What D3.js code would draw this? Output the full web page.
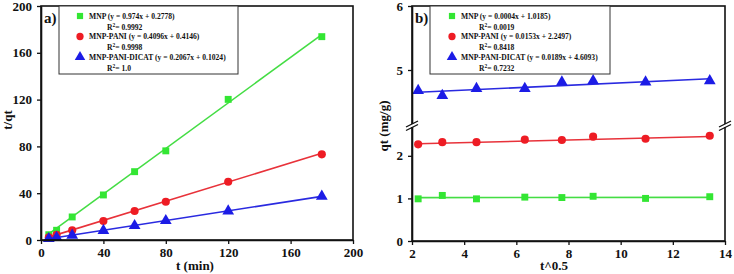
<!DOCTYPE html>
<html><head><meta charset="utf-8">
<script src="https://cdn.jsdelivr.net/npm/d3@7"></script>
<style>
body{margin:0;background:#fff;}
svg text{font-family:"Liberation Serif","Times New Roman",Times,serif;font-weight:bold;fill:#111;}
</style></head>
<body><svg id="c" width="734" height="274"></svg>
<script>
// ---------- data ----------
const tMin = [5, 10, 20, 40, 60, 80, 120, 180];
const sqrtT = [2.236, 3.162, 4.472, 6.325, 7.746, 8.944, 10.954, 13.416];
const seriesNames = ["MNP", "MNP-PANI", "MNP-PANI-DICAT"];
// panel a: t/qt
const aMNP = [4.5, 8.3, 19.7, 38.5, 58.4, 76.2, 120.2, 173.8];
const aPANI = [2.2, 4.4, 8.3, 16.2, 24.8, 32.7, 49.8, 73.2];
const aDICAT = [1.1, 2.2, 4.0, 8.0, 12.2, 16.5, 24.8, 37.3];
const aSlope = [0.974, 0.4096, 0.2067];
const aIntercept = [0.2778, 0.4146, 0.1024];
const aEq = ["MNP (y = 0.974x + 0.2778)", "MNP-PANI (y = 0.4096x + 0.4146)", "MNP-PANI-DICAT (y = 0.2067x + 0.1024)"];
const aR2 = ["0.9992", "0.9998", "1.0"];
// panel b: qt
const bMNP = [0.99, 1.07, 0.99, 1.03, 1.02, 1.05, 1.00, 1.04];
const bPANI = [2.27, 2.32, 2.32, 2.38, 2.37, 2.45, 2.40, 2.47];
const bDICAT = [4.68, 4.60, 4.71, 4.71, 4.81, 4.83, 4.81, 4.83];
const bSlope = [0.0004, 0.0153, 0.0189];
const bIntercept = [1.0185, 2.2497, 4.6093];
const bEq = ["MNP (y = 0.0004x + 1.0185)", "MNP-PANI (y = 0.0153x + 2.2497)", "MNP-PANI-DICAT (y = 0.0189x + 4.6093)"];
const bR2 = ["0.0019", "0.8418", "0.7232"];
const aXTicks = [0, 40, 80, 120, 160, 200];
const aYTicks = [0, 40, 80, 120, 160, 200];
const bXTicks = [2, 4, 6, 8, 10, 12, 14];
const bYTicksLow = [0, 1, 2];
const bYTicksHigh = [5, 6];

const colors = ["#33e633", "#ee1c24", "#1c1ce6"];
const lineColors = ["#44dd44", "#e8323a", "#2a2ae0"];
const shapes = [d3.symbolSquare, d3.symbolCircle, d3.symbolTriangle];
const symSizes = [48, 52, 60];

const svg = d3.select("#c");

function axisStyle(g){
  g.selectAll("path.domain").attr("stroke","#111").attr("stroke-width",1.6);
  g.selectAll(".tick line").attr("stroke","#111").attr("stroke-width",1.3);
  g.selectAll(".tick text").style("font-size","13px").attr("fill","#111");
}

function legend(g, x0, y0, w, h, eqs, r2s, mx, tx, rx){
  g.append("rect").attr("x",x0).attr("y",y0).attr("width",w).attr("height",h)
    .attr("fill","#fff").attr("stroke","#333").attr("stroke-width",1);
  eqs.forEach((e,i)=>{
    const yy = y0 + 10 + i*20.5;
    g.append("path").attr("d", d3.symbol().type(shapes[i]).size(symSizes[i]*0.8)())
      .attr("transform",`translate(${mx},${yy})`).attr("fill",colors[i]);
    g.append("text").attr("x",tx).attr("y",yy).attr("dy","0.35em").style("font-size","7.6px").text(e);
    const t = g.append("text").attr("x",rx).attr("y",yy+11).attr("dy","0.35em").style("font-size","7.6px");
    t.append("tspan").text("R");
    t.append("tspan").attr("dy","-3").style("font-size","5.5px").text("2");
    t.append("tspan").attr("dy","3").text("= " + r2s[i]);
  });
}

// ---------- panel a ----------
{
  const L=41, R=353, T=6, B=240;
  const x = d3.scaleLinear().domain([0,200]).range([L,R]);
  const y = d3.scaleLinear().domain([0,200]).range([B,T]);
  const g = svg.append("g");
  const data = [aMNP, aPANI, aDICAT];
  data.forEach((vals,i)=>{
    const line = d3.line().x(d=>x(d)).y(d=>y(aSlope[i]*d + aIntercept[i]));
    g.append("path").datum([tMin[0], tMin[tMin.length-1]]).attr("d",line)
      .attr("fill","none").attr("stroke",lineColors[i]).attr("stroke-width",1.6);
    g.selectAll(null).data(vals).enter().append("path")
      .attr("d", d3.symbol().type(shapes[i]).size(symSizes[i])())
      .attr("transform",(d,j)=>`translate(${x(tMin[j])},${y(d)})`)
      .attr("fill",colors[i]);
  });
  g.append("rect").attr("x",L).attr("y",T).attr("width",R-L).attr("height",B-T)
    .attr("fill","none").attr("stroke","#111").attr("stroke-width",1.6);
  const ax = g.append("g").attr("transform",`translate(0,${B})`)
    .call(d3.axisBottom(x).tickValues(aXTicks).tickFormat(d3.format("d")).tickSize(4).tickPadding(4).tickSizeOuter(0));
  axisStyle(ax);
  const ay = g.append("g").attr("transform",`translate(${L},0)`)
    .call(d3.axisLeft(y).tickValues(aYTicks).tickFormat(d3.format("d")).tickSize(4).tickPadding(5).tickSizeOuter(0));
  axisStyle(ay);
  g.append("text").attr("x",(L+R)/2-2).attr("y",270).attr("text-anchor","middle").style("font-size","13px").text("t (min)");
  g.append("text").attr("transform",`translate(12,120) rotate(-90)`).attr("text-anchor","middle").style("font-size","13px").text("t/qt");
  g.append("text").attr("x",44).attr("y",23).style("font-size","15px").text("a)");
  legend(g, 59, 6, 179, 68, aEq, aR2, 80, 89, 107);
}

// ---------- panel b ----------
{
  const L=412, R=725, T=6, B=241, brk=126;
  const x = d3.scaleLinear().domain([2,14]).range([L,R]);
  const yLow = d3.scaleLinear().domain([0,2.7]).range([B,brk]);
  const yHigh = d3.scaleLinear().domain([4.125,6]).range([brk,T]);
  const g = svg.append("g");
  const data = [bMNP, bPANI, bDICAT];
  data.forEach((vals,i)=>{
    const y = i===2 ? yHigh : yLow;
    const line = d3.line().x(d=>x(d)).y(d=>y(bSlope[i]*d + bIntercept[i]));
    g.append("path").datum([sqrtT[0], sqrtT[sqrtT.length-1]]).attr("d",line)
      .attr("fill","none").attr("stroke",lineColors[i]).attr("stroke-width",1.6);
    g.selectAll(null).data(vals).enter().append("path")
      .attr("d", d3.symbol().type(shapes[i]).size(symSizes[i])())
      .attr("transform",(d,j)=>`translate(${x(sqrtT[j])},${y(d)})`)
      .attr("fill",colors[i]);
  });
  g.append("rect").attr("x",L).attr("y",T).attr("width",R-L).attr("height",B-T)
    .attr("fill","none").attr("stroke","#111").attr("stroke-width",1.6);
  const ax = g.append("g").attr("transform",`translate(0,${B})`)
    .call(d3.axisBottom(x).tickValues(bXTicks).tickFormat(d3.format("d")).tickSize(4).tickPadding(4).tickSizeOuter(0));
  axisStyle(ax);
  const ayl = g.append("g").attr("transform",`translate(${L},0)`)
    .call(d3.axisLeft(yLow).tickValues(bYTicksLow).tickFormat(d3.format("d")).tickSize(4).tickPadding(5).tickSizeOuter(0));
  axisStyle(ayl);
  const ayh = g.append("g").attr("transform",`translate(${L},0)`)
    .call(d3.axisLeft(yHigh).tickValues(bYTicksHigh).tickFormat(d3.format("d")).tickSize(4).tickPadding(5).tickSizeOuter(0));
  axisStyle(ayh);
  // break marks
  [L,R].forEach(xx=>{
    g.append("rect").attr("x",xx-3).attr("y",brk-2).attr("width",6).attr("height",3).attr("fill","#fff");
    [-2,1.5].forEach(off=>{
      g.append("line").attr("x1",xx-6).attr("y1",brk+3+off).attr("x2",xx+6).attr("y2",brk-3+off)
        .attr("stroke","#111").attr("stroke-width",1.3);
    });
  });
  g.append("text").attr("x",554).attr("y",270).attr("text-anchor","middle").style("font-size","13px").text("t^0.5");
  g.append("text").attr("transform",`translate(388,126) rotate(-90)`).attr("text-anchor","middle").style("font-size","13px").text("qt (mg/g)");
  g.append("text").attr("x",415).attr("y",23).style("font-size","15px").text("b)");
  legend(g, 430, 6, 180, 68, bEq, bR2, 452, 461, 479);
}
</script></body></html>
